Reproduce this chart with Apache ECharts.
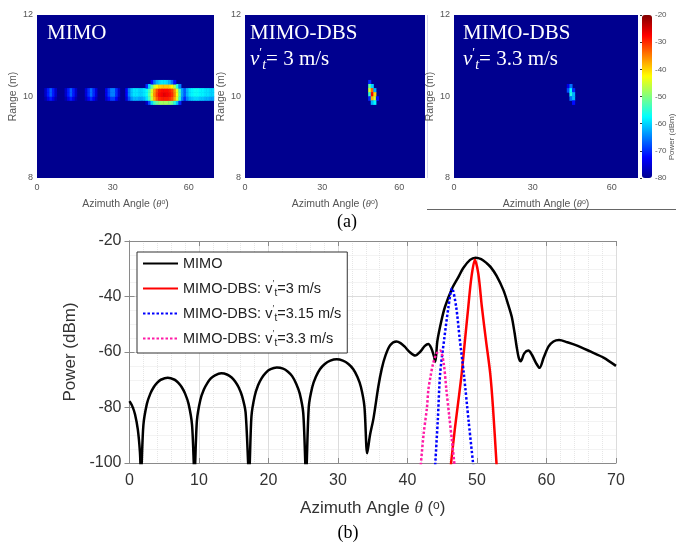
<!DOCTYPE html>
<html>
<head>
<meta charset="utf-8">
<script src="https://cdn.jsdelivr.net/npm/echarts@6/dist/echarts.min.js"></script>
<style>
  html, body { margin: 0; padding: 0; background: #fff; }
  #chart { width: 676px; height: 542px; }
</style>
</head>
<body>
<div id="chart"></div>
<script>
// ---- (a) range-azimuth maps: rows of cells [range (m), first angle (deg), powers (dBm)]
const mimoMap = [
  [9.8, 43, [-76, -68, -60, -54, -51, -49, -48, -48, -48, -49, -51, -55, -61, -70]],
  [9.9, 3, [-78, -74, -71, -74, -78, -80, -80, -80, -78, -74, -71, -74, -78, -80, -80, -80,
            -77, -73, -70, -73, -77, -80, -80, -80, -76, -72, -69, -69, -73, -78, -80, -80,
            -75, -68, -64, -62, -62, -63, -63, -62, -59, -54, -46, -38, -33, -30, -29, -29,
            -29, -30, -32, -37, -45, -55, -65, -70, -65, -62, -61, -60, -60, -61, -61, -62,
            -62, -63, -63]],
  [10.0, 3, [-76, -71, -67, -71, -76, -80, -80, -80, -76, -71, -67, -71, -76, -80, -80, -80,
             -75, -70, -66, -70, -75, -80, -80, -80, -74, -69, -65, -65, -70, -76, -80, -80,
             -73, -65, -61, -59, -59, -60, -60, -59, -57, -52, -44, -36, -31, -28, -27, -26,
             -27, -28, -30, -35, -43, -53, -63, -67, -62, -59, -58, -57, -57, -58, -58, -59,
             -59, -60, -60]],
  [10.1, 3, [-76, -71, -67, -71, -76, -80, -80, -80, -76, -71, -67, -71, -76, -80, -80, -80,
             -75, -70, -66, -70, -75, -80, -80, -80, -74, -69, -65, -65, -70, -76, -80, -80,
             -73, -65, -61, -59, -59, -60, -60, -59, -57, -53, -45, -37, -32, -29, -28, -28,
             -28, -29, -31, -36, -44, -54, -63, -67, -62, -59, -58, -57, -57, -58, -58, -59,
             -59, -60, -60]],
  [10.2, 43, [-70, -60, -52, -46, -42, -40, -39, -39, -39, -40, -42, -47, -55, -65]],
  [10.3, 45, [-72, -66, -62, -60, -59, -59, -60, -62, -66, -72]]
];
const dbs3Map = [
  [10.3, 48, [-70]],
  [10.2, 48, [-52, -60]],
  [10.1, 48, [-45, -33, -62]],
  [10.0, 48, [-55, -27, -40]],
  [9.9, 48, [-70, -38, -45, -72]],
  [9.8, 49, [-62, -58]]
];
const dbs33Map = [
  [10.2, 43, [-74, -66]],
  [10.1, 43, [-68, -58, -70]],
  [10.0, 44, [-56, -62]],
  [9.9, 44, [-66, -62]],
  [9.8, 45, [-72]]
];

// ---- (b) azimuth cuts
const mimoAngle = [0, 0.4, 0.8, 1.2, 1.5, 1.65,
  2.0, 2.5, 3.0, 3.5, 4.0, 4.5, 5.5, 6.5, 7.0, 7.5, 8.0, 8.5, 9.0, 9.35,
  9.7, 10.2, 10.7, 11.2, 11.7, 12.3, 13.2, 14.1, 14.7, 15.2, 15.7, 16.2, 16.7, 17.2,
  17.55, 18.0, 18.5, 19.0, 19.6, 20.3, 21.2, 22.1, 22.8, 23.4, 24.0, 24.5, 25.0, 25.4,
  25.8, 26.3, 26.8, 27.4, 28.1, 28.9, 29.8, 30.7, 31.5, 32.2, 32.8, 33.3, 33.8, 34.2,
  34.6, 35.1, 35.8, 36.3, 36.8, 37.5, 38.4, 39.0, 39.6, 40.3, 41.1, 41.8, 42.5, 43.0, 43.4, 43.8, 44.0,
  44.3, 44.9, 45.4, 46.4, 47.3, 48.0, 49.0, 49.8, 50.6, 51.4, 52.0, 52.8, 53.8, 54.5, 55.0, 55.4, 55.7, 56.0, 56.3,
  56.8, 57.4, 57.9, 58.5, 59.0, 59.6, 60.3, 61.0, 61.8, 63.0, 64.5, 66.3, 68.2, 70];
const mimoPower = [-77.7, -79.5, -82.5, -88, -96, -104,
  -86.3, -78.7, -75.0, -72.6, -71.0, -70.0, -69.3, -70.0, -71.0, -72.6, -75.0, -78.7, -86.3, -104,
  -84.7, -77.2, -73.5, -71.2, -69.5, -68.4, -67.7, -68.2, -69.2, -70.6, -72.7, -75.9, -81.7, -104,
  -83.1, -76, -72, -69.5, -67.5, -66.2, -65.6, -66.0, -67.1, -68.7, -71.5, -75, -82, -104,
  -79.6, -72.6, -69, -66.2, -64.3, -63.1, -62.6, -63.1, -64.3, -66.2, -69, -72.6, -79.6, -96.5,
  -90, -84, -72.5, -66, -61.5, -57.6, -56.2, -56.8, -58.1, -60, -61.3, -60, -57.8, -57.1, -58.5, -61.5, -63.5,
  -56, -48.5, -43.7, -37.2, -33.1, -29.8, -26.8, -26.0, -26.5, -28.0, -29.5, -32.5, -37.7, -43, -47.3, -53, -58, -62, -63.3,
  -60.5, -59.5, -61, -64, -65.7, -62, -58, -56.2, -55.7, -56.5, -57.8, -59.8, -62, -65];
const dbs3Angle = [46.1, 46.8, 47.3, 47.8, 48.3, 48.75, 49.2, 49.7, 50.2, 50.7, 51.3, 51.9, 52.3, 52.9];
const dbs3Power = [-104, -88, -78, -67.7, -55, -43.7, -33, -26.8, -32, -43.7, -56, -67.7, -80, -104];
const dbs315Angle = [43.9, 44.35, 44.7, 45.3, 45.9, 46.4, 47.0, 47.5, 48.1, 48.8, 49.6];
const dbs315Power = [-104, -85, -67.7, -55, -43.7, -37, -43.7, -55, -67.7, -85, -104];
const dbs33Angle = [41.8, 42.3, 42.8, 43.0, 43.3, 43.7, 44.2, 44.7, 45.2, 45.6, 46.0, 46.4, 46.9];
const dbs33Power = [-104, -90, -80, -73.7, -69, -64, -60.5, -59.5, -64, -73.7, -83, -92, -104];

const legendNames = {
  MIMO: 'MIMO',
  DBS3: 'MIMO-DBS: v{pr|′}{sub|t}=3 m/s',
  DBS315: 'MIMO-DBS: v{pr|′}{sub|t}=3.15 m/s',
  DBS33: 'MIMO-DBS: v{pr|′}{sub|t}=3.3 m/s'
};

const jet = ['#00008F', '#0000FF', '#0080FF', '#00FFFF', '#80FF80', '#FFFF00', '#FF8000', '#FF0000', '#800000'];
const xCells = Array.from({ length: 70 }, (_, i) => String(i));
const yCells = Array.from({ length: 40 }, (_, i) => String(i));

function toCells(rows) {
  const cells = [];
  rows.forEach(([y, x0, vals]) => {
    const row = Math.round((y - 8) * 10);
    vals.forEach((v, i) => cells.push([x0 + i, row, v]));
  });
  return cells;
}
const pairs = (xs, ys) => xs.map((x, i) => [x, ys[i]]);

const sans = 'Liberation Sans';
const serif = 'Liberation Serif';
const boxColor = '#8a8a8a';

const mapGrids = [
  { left: 37, top: 15, width: 177, height: 163 },
  { left: 245, top: 15, width: 180, height: 163 },
  { left: 454, top: 15, width: 184, height: 163 }
];
const rangeNameGap = [14, 14, 11];

const grid = mapGrids.map(g => Object.assign({ show: true, backgroundColor: '#00008F', borderWidth: 0 }, g));
grid.push({ left: 642, top: 15, width: 10, height: 163 });
grid.push({ left: 129.5, top: 241, width: 486.5, height: 222 });

const xAxis = [], yAxis = [], series = [];
const maps = [mimoMap, dbs3Map, dbs33Map];

maps.forEach((m, p) => {
  xAxis.push({ gridIndex: p, type: 'category', data: xCells, show: false, position: 'top' });
  xAxis.push({
    gridIndex: p, type: 'value', min: 0, max: 70, interval: 30, position: 'bottom',
    axisLine: { show: false }, axisTick: { show: false }, splitLine: { show: false },
    axisLabel: { fontSize: 9, color: '#555', fontFamily: sans, margin: 5, showMaxLabel: false },
    name: 'Azimuth Angle ({it|θ}{sup|o})', nameLocation: 'middle', nameGap: 21,
    nameTextStyle: {
      fontSize: 10.5, color: '#555', fontFamily: sans,
      rich: {
        it: { fontSize: 10.5, fontStyle: 'italic', fontFamily: serif, color: '#555' },
        sup: { fontSize: 7, color: '#555', verticalAlign: 'top', fontFamily: sans }
      }
    }
  });
  yAxis.push({ gridIndex: p, type: 'category', data: yCells, show: false, position: 'right' });
  yAxis.push({
    gridIndex: p, type: 'value', min: 8, max: 12, interval: 2, position: 'left',
    axisLine: { show: false }, axisTick: { show: false }, splitLine: { show: false },
    axisLabel: { fontSize: 9, color: '#555', fontFamily: sans, margin: 4 },
    name: 'Range (m)', nameLocation: 'middle', nameGap: rangeNameGap[p],
    nameTextStyle: { fontSize: 10.5, color: '#555', fontFamily: sans }
  });
  series.push({
    type: 'heatmap', xAxisIndex: 2 * p, yAxisIndex: 2 * p,
    data: toCells(m), silent: true, emphasis: { disabled: true }
  });
});

// colorbar axis
xAxis.push({ gridIndex: 3, type: 'value', show: false, min: 0, max: 1 });
yAxis.push({
  gridIndex: 3, type: 'value', min: -80, max: -20, interval: 10, position: 'right',
  axisLine: { show: false }, splitLine: { show: false },
  axisTick: { show: true, inside: true, length: 2, lineStyle: { color: '#333' } },
  axisLabel: { fontSize: 8, color: '#555', fontFamily: sans, margin: 3 }
});

// (b) axes
const gridLine = { lineStyle: { color: '#dcdcdc', width: 1 } };
const minorLine = { show: true, lineStyle: { color: '#e6e6e6', width: 1, type: 'dotted' } };
xAxis.push({
  gridIndex: 4, type: 'value', min: 0, max: 70, interval: 10, position: 'bottom',
  axisLine: { lineStyle: { color: boxColor } },
  axisTick: { inside: true, length: 5, lineStyle: { color: boxColor } },
  axisLabel: { fontSize: 16, color: '#333', fontFamily: sans, margin: 10 },
  splitLine: gridLine,
  minorTick: { show: false, splitNumber: 5 }, minorSplitLine: minorLine,
  name: 'Azimuth Angle {it|θ} ({sup|o})', nameLocation: 'middle', nameGap: 37,
  nameTextStyle: {
    fontSize: 17, color: '#333', fontFamily: sans,
    rich: {
      it: { fontSize: 17, fontStyle: 'italic', fontFamily: serif, color: '#333' },
      sup: { fontSize: 12, color: '#333', verticalAlign: 'top', fontFamily: sans }
    }
  }
});
xAxis.push({
  gridIndex: 4, type: 'value', min: 0, max: 70, interval: 10, position: 'top',
  axisLine: { lineStyle: { color: boxColor } },
  axisTick: { inside: true, length: 5, lineStyle: { color: boxColor } },
  axisLabel: { show: false }, splitLine: { show: false }
});
yAxis.push({
  gridIndex: 4, type: 'value', min: -100, max: -20, interval: 20, position: 'left',
  axisLine: { show: true, lineStyle: { color: boxColor } },
  axisTick: { show: true, inside: true, length: 5, lineStyle: { color: boxColor } },
  axisLabel: { fontSize: 16, color: '#333', fontFamily: sans, margin: 8 },
  splitLine: gridLine,
  minorTick: { show: false, splitNumber: 4 }, minorSplitLine: minorLine,
  name: 'Power (dBm)', nameLocation: 'middle', nameGap: 46,
  nameTextStyle: { fontSize: 17, color: '#333', fontFamily: sans }
});
yAxis.push({
  gridIndex: 4, type: 'value', min: -100, max: -20, interval: 20, position: 'right',
  axisLine: { show: true, lineStyle: { color: boxColor } },
  axisTick: { show: true, inside: true, length: 5, lineStyle: { color: boxColor } },
  axisLabel: { show: false }, splitLine: { show: false }
});

function lineSeries(name, xs, ys, color, dotted) {
  return {
    type: 'line', name, xAxisIndex: 7, yAxisIndex: 7, data: pairs(xs, ys),
    symbol: 'none', smooth: 0.3, silent: true,
    lineStyle: { color, width: 2.5, type: dotted ? [2.5, 2] : 'solid' },
    itemStyle: { color }
  };
}
series.push(lineSeries('MIMO', mimoAngle, mimoPower, '#000000', false));
series.push(lineSeries('DBS3', dbs3Angle, dbs3Power, '#FF0000', false));
series.push(lineSeries('DBS315', dbs315Angle, dbs315Power, '#0000FF', true));
series.push(lineSeries('DBS33', dbs33Angle, dbs33Power, '#FF1AA6', true));

const white = '#ffffff';
const panelLabel = (x, y, text) => ({
  type: 'text', x, y,
  style: {
    text, fill: white, font: '21px "Liberation Serif"', textVerticalAlign: 'middle',
    rich: {
      v: { fontSize: 21, fontFamily: serif, fontStyle: 'italic', fill: white, color: white },
      pr: { fontSize: 13, fontFamily: serif, fill: white, color: white, verticalAlign: 'top', lineHeight: 26 },
      sub: { fontSize: 14, fontFamily: serif, fontStyle: 'italic', fill: white, color: white, verticalAlign: 'bottom', lineHeight: 26 },
      n: { fontSize: 21, fontFamily: serif, fill: white, color: white, lineHeight: 26 }
    }
  }
});

const option = {
  animation: false,
  grid, xAxis, yAxis, series,
  visualMap: {
    type: 'continuous', min: -80, max: -20, seriesIndex: [0, 1, 2], dimension: 2,
    inRange: { color: jet }, calculable: false, realtime: false, hoverLink: false,
    left: 642, top: 15, itemWidth: 10, itemHeight: 163, padding: 0
  },
  legend: {
    left: 137, top: 252, orient: 'vertical',
    data: ['MIMO', 'DBS3', 'DBS315', 'DBS33'],
    itemWidth: 35, itemHeight: 14, itemGap: 6,
    padding: [2, 6, 5, 5],
    backgroundColor: '#fff', borderColor: '#333', borderWidth: 1, borderRadius: 0,
    selectedMode: false,
    itemStyle: { opacity: 0 },
    formatter: n => legendNames[n],
    textStyle: {
      fontSize: 14.5, color: '#222', fontFamily: sans, lineHeight: 19,
      rich: {
        pr: { fontSize: 9, color: '#222', fontFamily: sans, verticalAlign: 'top', lineHeight: 19, width: 2 },
        sub: { fontSize: 10, color: '#222', fontFamily: sans, verticalAlign: 'bottom', lineHeight: 19 }
      }
    }
  },
  graphic: [
    { type: 'text', x: 47, y: 33, style: { text: 'MIMO', fill: white, font: '21px "Liberation Serif"', textVerticalAlign: 'middle' } },
    { type: 'text', x: 250, y: 33, style: { text: 'MIMO-DBS', fill: white, font: '21px "Liberation Serif"', textVerticalAlign: 'middle' } },
    panelLabel(250, 59, '{v|v}{pr|′}{sub|t}{n|= 3 m/s}'),
    { type: 'text', x: 463, y: 33, style: { text: 'MIMO-DBS', fill: white, font: '21px "Liberation Serif"', textVerticalAlign: 'middle' } },
    panelLabel(463, 59, '{v|v}{pr|′}{sub|t}{n|= 3.3 m/s}'),
    {
      type: 'text', x: 672, y: 137, rotation: Math.PI / 2,
      style: { text: 'Power (dBm)', fill: '#555', font: '8px "Liberation Sans"', textAlign: 'center', textVerticalAlign: 'middle' }
    },
    { type: 'line', shape: { x1: 427.5, y1: 15, x2: 427.5, y2: 178 }, style: { stroke: '#d4d4ea', lineWidth: 1 } },
    { type: 'line', shape: { x1: 427, y1: 209.5, x2: 676, y2: 209.5 }, style: { stroke: '#666', lineWidth: 1 } },
    { type: 'text', x: 347, y: 222, style: { text: '(a)', fill: '#000', font: '18px "Liberation Serif"', textAlign: 'center', textVerticalAlign: 'middle' } },
    { type: 'text', x: 348, y: 533, style: { text: '(b)', fill: '#000', font: '18px "Liberation Serif"', textAlign: 'center', textVerticalAlign: 'middle' } }
  ]
};

const chart = echarts.init(document.getElementById('chart'));
chart.setOption(option);
window.addEventListener('resize', () => chart.resize());
</script>
</body>
</html>
